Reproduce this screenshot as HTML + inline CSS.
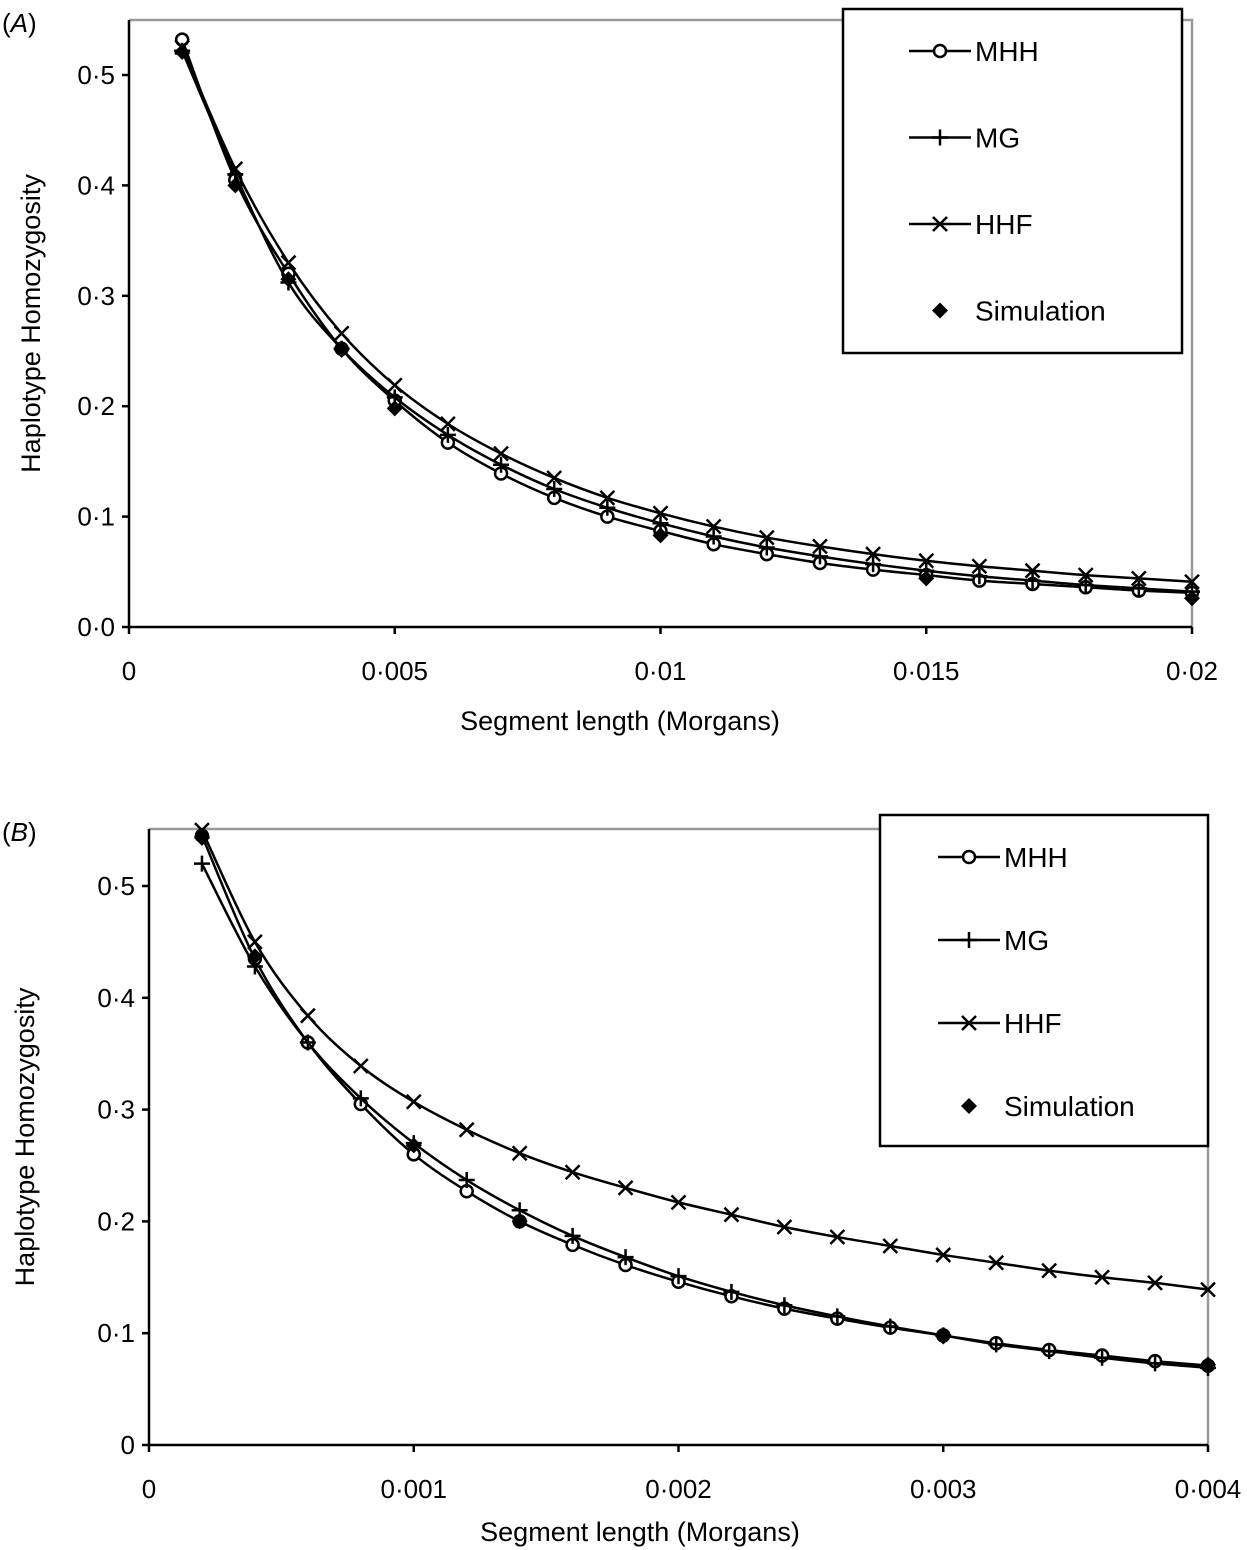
<!DOCTYPE html>
<html><head><meta charset="utf-8"><style>
body{margin:0;background:#fff;}
svg{display:block;font-family:"Liberation Sans",sans-serif;}
</style></head><body>
<svg id="chart" width="1247" height="1550" viewBox="0 0 1247 1550"></svg>
<script>
// Panel A data
const xsA = [0.001,0.002,0.003,0.004,0.005,0.006,0.007,0.008,0.009,0.010,0.011,0.012,0.013,0.014,0.015,0.016,0.017,0.018,0.019,0.020];
const mhhA = [0.532,0.405,0.320,0.252,0.205,0.167,0.139,0.117,0.100,0.087,0.075,0.066,0.058,0.052,0.047,0.042,0.039,0.036,0.033,0.031];
const mgA  = [0.522,0.410,0.312,0.252,0.208,0.174,0.147,0.125,0.108,0.094,0.082,0.072,0.064,0.057,0.051,0.046,0.042,0.038,0.035,0.032];
const hhfA = [0.525,0.415,0.330,0.266,0.219,0.184,0.157,0.135,0.117,0.103,0.091,0.081,0.073,0.066,0.060,0.055,0.051,0.047,0.044,0.041];
const simXA = [0.001,0.002,0.003,0.004,0.005,0.010,0.015,0.020];
const simA  = [0.521,0.400,0.315,0.251,0.198,0.083,0.044,0.026];
const xTicksA = [0,0.005,0.01,0.015,0.02];
const xTickLabelsA = ["0","0·005","0·01","0·015","0·02"];
const yTicksA = [0,0.1,0.2,0.3,0.4,0.5];
const yTickLabelsA = ["0·0","0·1","0·2","0·3","0·4","0·5"];
// Panel B data
const xsB = [0.0002,0.0004,0.0006,0.0008,0.0010,0.0012,0.0014,0.0016,0.0018,0.0020,0.0022,0.0024,0.0026,0.0028,0.0030,0.0032,0.0034,0.0036,0.0038,0.0040];
const mhhB = [0.545,0.435,0.360,0.305,0.260,0.227,0.200,0.179,0.161,0.146,0.133,0.122,0.113,0.105,0.098,0.091,0.085,0.080,0.075,0.071];
const mgB  = [0.520,0.428,0.360,0.310,0.270,0.237,0.210,0.187,0.168,0.151,0.137,0.125,0.115,0.106,0.098,0.090,0.084,0.078,0.073,0.069];
const hhfB = [0.550,0.450,0.384,0.339,0.307,0.282,0.261,0.244,0.230,0.217,0.206,0.195,0.186,0.178,0.170,0.163,0.156,0.150,0.145,0.139];
const simXB = [0.0002,0.0004,0.0010,0.0014,0.0030,0.0040];
const simB  = [0.543,0.437,0.268,0.200,0.097,0.072];
const xTicksB = [0,0.001,0.002,0.003,0.004];
const xTickLabelsB = ["0","0·001","0·002","0·003","0·004"];
const yTicksB = [0,0.1,0.2,0.3,0.4,0.5];
const yTickLabelsB = ["0","0·1","0·2","0·3","0·4","0·5"];

const NS="http://www.w3.org/2000/svg";
const svg=document.getElementById('chart');
function mk(tag,attrs,parent){const e=document.createElementNS(NS,tag);for(const k in attrs)e.setAttribute(k,attrs[k]);(parent||svg).appendChild(e);return e;}

function smoothPath(pts){
  let d="M"+pts[0][0]+","+pts[0][1];
  for(let i=0;i<pts.length-1;i++){
    const p0=pts[i-1]||pts[i],p1=pts[i],p2=pts[i+1],p3=pts[i+2]||p2;
    const c1=[p1[0]+(p2[0]-p0[0])/6,p1[1]+(p2[1]-p0[1])/6];
    const c2=[p2[0]-(p3[0]-p1[0])/6,p2[1]-(p3[1]-p1[1])/6];
    d+=" C"+c1[0]+","+c1[1]+" "+c2[0]+","+c2[1]+" "+p2[0]+","+p2[1];
  }
  return d;
}
function marker(g,type,x,y){
  let m;
  if(type==='circle'){m=mk('circle',{cx:x,cy:y,r:6,fill:'#fff',stroke:'#000','stroke-width':2.5},g);}
  else if(type==='plus'){m=mk('path',{d:`M${x-8},${y}H${x+8}M${x},${y-8}V${y+8}`,stroke:'#000','stroke-width':2.5},g);}
  else if(type==='cross'){m=mk('path',{d:`M${x-7},${y-7}L${x+7},${y+7}M${x-7},${y+7}L${x+7},${y-7}`,stroke:'#000','stroke-width':2.5},g);}
  else {m=mk('path',{d:`M${x},${y-8}L${x+8},${y}L${x},${y+8}L${x-8},${y}Z`,fill:'#000'},g);}
  return m;
}

function panel(o){
  const g=mk('g',{});
  
  
  const sx=v=>o.x0+(v-o.xmin)/(o.xmax-o.xmin)*(o.x1-o.x0);
  const sy=v=>o.y0-(v/o.ymax)*(o.y0-o.y1);
  const frame=mk('path',{d:`M${o.x0},${o.top}H${o.x1}V${o.y0}`,fill:'none',stroke:'#999','stroke-width':2.5},g);
  
  const ax=mk('path',{d:`M${o.x0},${o.top}V${o.y0}H${o.x1}`,fill:'none',stroke:'#000','stroke-width':2.5},g);
  
  o.yt.forEach((v,i)=>{
    mk('line',{x1:o.x0-7,x2:o.x0,y1:sy(v),y2:sy(v),stroke:'#000','stroke-width':2.5},g);
    const t=mk('text',{x:o.x0-14,y:sy(v)+9,'font-size':26,'text-anchor':'end'},g);t.textContent=o.ytl[i];
    
  });
  o.xt.forEach((v,i)=>{
    mk('line',{x1:sx(v),x2:sx(v),y1:o.y0,y2:o.y0+7,stroke:'#000','stroke-width':2.5},g);
    const t=mk('text',{x:sx(v),y:o.y0+53,'font-size':26,'text-anchor':'middle'},g);t.textContent=o.xtl[i];
    
  });
  const xl=mk('text',{x:o.xtx,y:o.y0+o.xty,'font-size':27,'text-anchor':'middle'},g);xl.textContent='Segment length (Morgans)';
  
  const yl=mk('text',{x:0,y:0,'font-size':27,'text-anchor':'middle',transform:`translate(${o.ylx},${(o.top+o.y0)/2}) rotate(-90)`},g);yl.textContent='Haplotype Homozygosity';
  
  const pl=mk('text',{x:2,y:o.top+12,'font-size':26},g);pl.innerHTML='(<tspan font-style="italic">'+o.label+'</tspan>)';
  
  o.series.forEach(s=>{
    const sg=mk('g',{},g);
    
    
    const pts=s.xs.map((x,i)=>[sx(x),sy(s.ys[i])]);
    if(s.line){mk('path',{d:smoothPath(pts),fill:'none',stroke:'#000','stroke-width':2.5},sg);}
    pts.forEach(p=>{const m=marker(sg,s.m,p[0],p[1]);});
  });
  const L=o.legend;
  const lg=mk('g',{},g);
  
  mk('rect',{x:L.x,y:L.y,width:L.w,height:L.h,fill:'#fff',stroke:'#000','stroke-width':2.5},lg);
  o.series.forEach((s,i)=>{
    const cy=L.y+L.fy+i*L.dy, lx=L.x+L.lx;
    const eg=mk('g',{},lg);
    
    if(s.line)mk('line',{x1:lx,x2:lx+62,y1:cy,y2:cy,stroke:'#000','stroke-width':2.5},eg);
    marker(eg,s.m,lx+31,cy);
    const t=mk('text',{x:lx+66,y:cy+10,'font-size':28},eg);t.textContent=s.label;
  });
}

panel({name:'panel-a',label:'A',x0:129,x1:1192,xmin:0,xmax:0.02,y0:627,y1:75,ymax:0.5,top:20,ylx:40,xtx:620,xty:103,
  xt:xTicksA,xtl:xTickLabelsA,yt:yTicksA,ytl:yTickLabelsA,
  legend:{x:843,y:9,w:339,h:344,lx:66,fy:42,dy:86.5},
  series:[{key:'mhh',label:'MHH',xs:xsA,ys:mhhA,m:'circle',line:true},
          {key:'mg',label:'MG',xs:xsA,ys:mgA,m:'plus',line:true},
          {key:'hhf',label:'HHF',xs:xsA,ys:hhfA,m:'cross',line:true},
          {key:'simulation',label:'Simulation',xs:simXA,ys:simA,m:'diamond',line:false}]});
panel({name:'panel-b',label:'B',x0:149,x1:1208,xmin:0,xmax:0.004,y0:1445,y1:886,ymax:0.5,top:829,ylx:34,xtx:640,xty:96,
  xt:xTicksB,xtl:xTickLabelsB,yt:yTicksB,ytl:yTickLabelsB,
  legend:{x:880,y:815,w:328,h:331,lx:58,fy:42,dy:83},
  series:[{key:'mhh',label:'MHH',xs:xsB,ys:mhhB,m:'circle',line:true},
          {key:'mg',label:'MG',xs:xsB,ys:mgB,m:'plus',line:true},
          {key:'hhf',label:'HHF',xs:xsB,ys:hhfB,m:'cross',line:true},
          {key:'simulation',label:'Simulation',xs:simXB,ys:simB,m:'diamond',line:false}]});
</script>
</body></html>
